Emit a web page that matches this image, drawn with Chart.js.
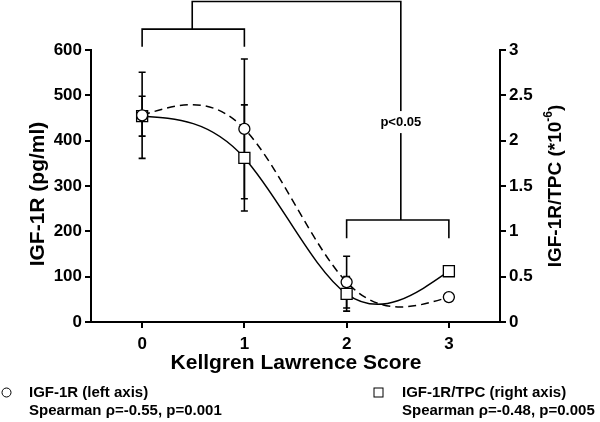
<!DOCTYPE html>
<html><head><meta charset="utf-8">
<script src="https://cdn.jsdelivr.net/npm/chart.js@4.4.1/dist/chart.umd.min.js"></script>
<style>html,body{margin:0;padding:0;background:#fff}canvas{display:block}</style>
</head><body>
<canvas id="c" width="600" height="422"></canvas>
<script>
// ---- data ----
const categories = ['0', '1', '2', '3'];
const igfMean = [456, 426, 88, 55];          // IGF-1R (pg/ml), left axis
const igfErr  = [95, 154, 57, 0];
const tpcMean = [2.27, 1.81, 0.31, 0.56];    // IGF-1R/TPC (*10^-6), right axis
const tpcErr  = [0.22, 0.585, 0.19, 0];
const leftTicks  = [0, 100, 200, 300, 400, 500, 600];
const rightTicks = [0, 0.5, 1, 1.5, 2, 2.5, 3];
const sigLabel = 'p<0.05';
const legendLabels = [
  ['IGF-1R (left axis)', 'Spearman \u03C1=-0.55, p=0.001'],
  ['IGF-1R/TPC (right axis)', 'Spearman \u03C1=-0.48, p=0.005']
];

const FONT = '"Liberation Sans", Arial, sans-serif';

function naturalCP(pts) {
  const n = pts.length; if (n < 3) return;
  const h = [];
  for (let i = 0; i < n - 1; i++) h.push(pts[i + 1].x - pts[i].x);
  const a = [], b = [], c = [], d = [];
  for (let i = 1; i < n - 1; i++) {
    a.push(h[i - 1]); b.push(2 * (h[i - 1] + h[i])); c.push(h[i]);
    d.push(6 * ((pts[i + 1].y - pts[i].y) / h[i] - (pts[i].y - pts[i - 1].y) / h[i - 1]));
  }
  const m = a.length;
  for (let i = 1; i < m; i++) { const w = a[i] / b[i - 1]; b[i] -= w * c[i - 1]; d[i] -= w * d[i - 1]; }
  const M = new Array(n).fill(0);
  for (let i = m - 1; i >= 0; i--) M[i + 1] = (d[i] - c[i] * M[i + 2]) / b[i];
  for (let i = 0; i < n - 1; i++) {
    const p = pts[i], q = pts[i + 1], hi = h[i];
    const s0 = (q.y - p.y) / hi - hi * (2 * M[i] + M[i + 1]) / 6;
    const s1 = (q.y - p.y) / hi + hi * (M[i] + 2 * M[i + 1]) / 6;
    p.cp2x = p.x + hi / 3; p.cp2y = p.y + s0 * hi / 3;
    q.cp1x = q.x - hi / 3; q.cp1y = q.y - s1 * hi / 3;
  }
}

const splinePlugin = {
  id: 'naturalSpline',
  beforeDatasetDraw(chart, args) {
    const line = args.meta.dataset;
    if (!line) return;
    const pts = line.points;
    naturalCP(pts);
    delete line._path;
  }
};

const errorPlugin = {
  id: 'errorBars',
  beforeDatasetsDraw(chart) {
    const ctx = chart.ctx;
    const sets = [[0, igfMean, igfErr], [1, tpcMean, tpcErr]];
    ctx.save();
    ctx.strokeStyle = '#000'; ctx.lineWidth = 1.6;
    sets.forEach(([di, mean, err]) => {
      const meta = chart.getDatasetMeta(di);
      const ys = chart.scales[meta.yAxisID];
      meta.data.forEach((pt, j) => {
        if (!err[j]) return;
        const x = pt.x;
        const yt = ys.getPixelForValue(mean[j] + err[j]);
        const yb = ys.getPixelForValue(mean[j] - err[j]);
        ctx.beginPath();
        ctx.moveTo(x, yt); ctx.lineTo(x, yb);
        ctx.moveTo(x - 3.5, yt); ctx.lineTo(x + 3.5, yt);
        ctx.moveTo(x - 3.5, yb); ctx.lineTo(x + 3.5, yb);
        ctx.stroke();
      });
    });
    ctx.restore();
  }
};

const decorPlugin = {
  id: 'decor',
  afterDraw(chart) {
    const ctx = chart.ctx;
    const xs = chart.scales.x, ys = chart.scales.y;
    const X = v => xs.getPixelForValue(v);
    const Y = v => ys.getPixelForValue(v);
    ctx.save();
    ctx.fillStyle = '#000'; ctx.strokeStyle = '#000';
    // significance brackets (x in category index, y in left-axis units)
    ctx.lineWidth = 1.6;
    ctx.beginPath();
    ctx.moveTo(X(0), Y(607)); ctx.lineTo(X(0), Y(646)); ctx.lineTo(X(1), Y(646)); ctx.lineTo(X(1), Y(607));
    ctx.moveTo(X(0.49), Y(646)); ctx.lineTo(X(0.49), Y(707)); ctx.lineTo(X(2.53), Y(707)); ctx.lineTo(X(2.53), Y(225));
    ctx.moveTo(X(2), Y(185)); ctx.lineTo(X(2), Y(225)); ctx.lineTo(X(3), Y(225)); ctx.lineTo(X(3), Y(185));
    ctx.stroke();
    ctx.font = 'bold 13px ' + FONT;
    const tw = ctx.measureText(sigLabel).width;
    const tx = X(2.53), ty = Y(441);
    ctx.fillStyle = '#fff';
    ctx.fillRect(tx - tw / 2 - 2, ty - 11, tw + 4, 22);
    ctx.fillStyle = '#000';
    ctx.textAlign = 'center'; ctx.textBaseline = 'middle';
    ctx.fillText(sigLabel, tx, ty);

    // axis titles
    ctx.font = 'bold 21px ' + FONT;
    ctx.save();
    ctx.translate(38, 194); ctx.rotate(-Math.PI / 2);
    ctx.fillText('IGF-1R (pg/ml)', 0, 0);
    ctx.restore();

    ctx.save();
    ctx.translate(556, 186); ctx.rotate(-Math.PI / 2);
    const t1 = 'IGF-1R/TPC (*10', t2 = '-6', t3 = ')';
    const big = 'bold 19px ' + FONT, small = 'bold 12px ' + FONT;
    ctx.font = big;
    const w1 = ctx.measureText(t1).width, w3 = ctx.measureText(t3).width;
    ctx.font = small;
    const w2 = ctx.measureText(t2).width;
    let sx = -(w1 + w2 + w3) / 2;
    ctx.textAlign = 'left';
    ctx.font = big; ctx.fillText(t1, sx, 0); sx += w1;
    ctx.font = small; ctx.fillText(t2, sx, -7); sx += w2;
    ctx.font = big; ctx.fillText(t3, sx, 0);
    ctx.restore();

    ctx.textAlign = 'center';
    ctx.font = 'bold 21px ' + FONT;
    ctx.fillText('Kellgren Lawrence Score', 296, 363);

    // legend
    ctx.lineWidth = 1;
    ctx.beginPath(); ctx.arc(6.5, 392.5, 4.5, 0, Math.PI * 2); ctx.stroke();
    ctx.strokeRect(374, 388, 9, 9);
    ctx.textAlign = 'left';
    ctx.font = 'bold 15px ' + FONT;
    ctx.fillText(legendLabels[0][0], 29, 393);
    ctx.fillText(legendLabels[0][1], 29, 411);
    ctx.fillText(legendLabels[1][0], 402, 393);
    ctx.fillText(legendLabels[1][1], 402, 411);
    ctx.restore();
  }
};

const tickFont = { family: FONT, size: 17, weight: 'bold' };

new Chart(document.getElementById('c'), {
  type: 'line',
  data: {
    labels: categories,
    datasets: [
      {
        label: 'IGF-1R (left axis)', data: igfMean, yAxisID: 'y',
        borderColor: '#000', borderWidth: 1.5, borderDash: [8, 5], tension: 0.4,
        pointStyle: 'circle', pointRadius: 5.5, pointBackgroundColor: '#fff',
        pointBorderColor: '#000', pointBorderWidth: 1.3, fill: false
      },
      {
        label: 'IGF-1R/TPC (right axis)', data: tpcMean, yAxisID: 'y2',
        borderColor: '#000', borderWidth: 1.5, tension: 0.4,
        pointStyle: 'rect', pointRadius: 7.8, pointBackgroundColor: '#fff',
        pointBorderColor: '#000', pointBorderWidth: 1.3, fill: false
      }
    ]
  },
  options: {
    responsive: false, animation: false, devicePixelRatio: 1,
    layout: { padding: { top: 50, left: 0, right: 0, bottom: 0 } },
    plugins: { legend: { display: false }, tooltip: { enabled: false } },
    scales: {
      x: {
        type: 'category', offset: true,
        border: { display: true, color: '#000', width: 2 },
        grid: { drawOnChartArea: false, drawTicks: true, tickLength: 6, color: '#000', lineWidth: 2, offset: false },
        ticks: { color: '#000', font: tickFont, padding: 6, maxRotation: 0 },
        afterFit(s) { s.height = 100; }
      },
      y: {
        type: 'linear', position: 'left', min: 0, max: 600,
        border: { display: true, color: '#000', width: 2 },
        grid: { drawOnChartArea: false, tickLength: 6, color: '#000', lineWidth: 2 },
        ticks: { color: '#000', font: tickFont, padding: 3 },
        afterBuildTicks(s) { s.ticks = leftTicks.map(v => ({ value: v })); },
        afterFit(s) { s.width = 91; }
      },
      y2: {
        type: 'linear', position: 'right', min: 0, max: 3,
        border: { display: true, color: '#000', width: 2 },
        grid: { drawOnChartArea: false, tickLength: 6, color: '#000', lineWidth: 2 },
        ticks: { color: '#000', font: tickFont, padding: 3, callback: v => String(v) },
        afterBuildTicks(s) { s.ticks = rightTicks.map(v => ({ value: v })); },
        afterFit(s) { s.width = 100; }
      }
    }
  },
  plugins: [splinePlugin, errorPlugin, decorPlugin]
});
</script>
</body></html>
